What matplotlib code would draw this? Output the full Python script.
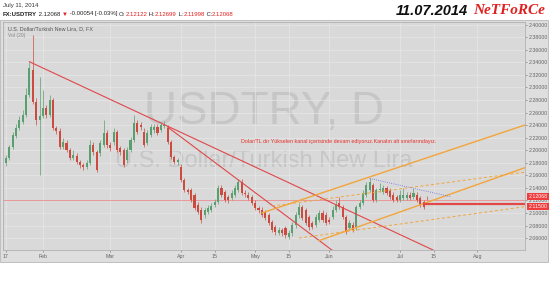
import numpy as np
import pandas as pd
import matplotlib
matplotlib.use('Agg')
import matplotlib.pyplot as plt
from matplotlib.patches import Rectangle

plt.rcParams['font.family'] = ['Liberation Sans', 'DejaVu Sans']

# USDTRY daily candles, Jan 17 - Jul 11 2014
dates = pd.bdate_range('2014-01-17', '2014-07-11')
opens = [2.180, 2.188, 2.205, 2.223, 2.235, 2.245, 2.256, 2.288, 2.328, 2.277,
         2.248, 2.255, 2.267, 2.256, 2.280, 2.235, 2.231, 2.205, 2.212, 2.200,
         2.188, 2.191, 2.181, 2.177, 2.173, 2.180, 2.208, 2.197, 2.196, 2.208,
         2.227, 2.208, 2.213, 2.229, 2.204, 2.200, 2.184, 2.200, 2.216, 2.243,
         2.240, 2.229, 2.212, 2.224, 2.232, 2.237, 2.232, 2.239, 2.235, 2.213,
         2.189, 2.181, 2.173, 2.153, 2.137, 2.137, 2.129, 2.113, 2.105, 2.097,
         2.102, 2.105, 2.113, 2.118, 2.140, 2.133, 2.126, 2.124, 2.129, 2.137,
         2.149, 2.132, 2.129, 2.126, 2.116, 2.108, 2.105, 2.102, 2.097, 2.086,
         2.078, 2.068, 2.073, 2.076, 2.062, 2.068, 2.081, 2.097, 2.110, 2.105,
         2.094, 2.084, 2.081, 2.089, 2.100, 2.097, 2.089, 2.094, 2.105, 2.116,
         2.110, 2.094, 2.076, 2.081, 2.076, 2.110, 2.116, 2.129, 2.137, 2.145,
         2.121, 2.137, 2.133, 2.140, 2.137, 2.129, 2.126, 2.121, 2.124, 2.124,
         2.129, 2.126, 2.129, 2.124, 2.118, 2.12122]
closes = [2.188, 2.205, 2.224, 2.235, 2.248, 2.256, 2.288, 2.331, 2.277, 2.248,
          2.255, 2.267, 2.256, 2.280, 2.235, 2.231, 2.205, 2.213, 2.200, 2.188,
          2.192, 2.181, 2.177, 2.173, 2.180, 2.208, 2.197, 2.169, 2.212, 2.227,
          2.208, 2.204, 2.229, 2.200, 2.197, 2.177, 2.200, 2.216, 2.243, 2.229,
          2.237, 2.208, 2.227, 2.237, 2.237, 2.227, 2.240, 2.240, 2.213, 2.189,
          2.181, 2.184, 2.153, 2.137, 2.133, 2.121, 2.108, 2.102, 2.089, 2.105,
          2.108, 2.111, 2.118, 2.140, 2.129, 2.121, 2.121, 2.132, 2.140, 2.149,
          2.132, 2.130, 2.124, 2.116, 2.108, 2.105, 2.097, 2.092, 2.084, 2.073,
          2.070, 2.073, 2.068, 2.065, 2.068, 2.081, 2.097, 2.110, 2.092, 2.084,
          2.078, 2.078, 2.094, 2.100, 2.089, 2.084, 2.086, 2.105, 2.113, 2.110,
          2.094, 2.070, 2.084, 2.073, 2.110, 2.116, 2.132, 2.145, 2.149, 2.121,
          2.137, 2.138, 2.140, 2.132, 2.126, 2.121, 2.121, 2.129, 2.129, 2.129,
          2.124, 2.132, 2.121, 2.113, 2.110, 2.12068]
highs = [2.192, 2.208, 2.229, 2.242, 2.255, 2.264, 2.299, 2.341, 2.384, 2.283,
         2.317, 2.296, 2.272, 2.288, 2.283, 2.239, 2.235, 2.220, 2.216, 2.204,
         2.200, 2.196, 2.184, 2.180, 2.184, 2.216, 2.213, 2.200, 2.216, 2.248,
         2.232, 2.213, 2.235, 2.232, 2.207, 2.204, 2.205, 2.221, 2.256, 2.248,
         2.245, 2.235, 2.232, 2.242, 2.242, 2.242, 2.245, 2.247, 2.240, 2.216,
         2.192, 2.188, 2.178, 2.156, 2.140, 2.140, 2.132, 2.118, 2.110, 2.108,
         2.113, 2.116, 2.122, 2.145, 2.145, 2.137, 2.129, 2.137, 2.145, 2.154,
         2.154, 2.137, 2.133, 2.129, 2.121, 2.111, 2.110, 2.105, 2.100, 2.089,
         2.081, 2.078, 2.076, 2.079, 2.073, 2.086, 2.102, 2.116, 2.113, 2.108,
         2.097, 2.087, 2.098, 2.105, 2.105, 2.102, 2.094, 2.111, 2.121, 2.126,
         2.113, 2.097, 2.089, 2.086, 2.113, 2.121, 2.137, 2.149, 2.156, 2.148,
         2.140, 2.148, 2.145, 2.143, 2.140, 2.133, 2.129, 2.137, 2.140, 2.133,
         2.133, 2.140, 2.133, 2.127, 2.121, 2.12699]
lows = [2.175, 2.184, 2.202, 2.220, 2.232, 2.242, 2.253, 2.285, 2.274, 2.240,
        2.161, 2.251, 2.251, 2.253, 2.232, 2.226, 2.202, 2.202, 2.197, 2.184,
        2.184, 2.178, 2.172, 2.169, 2.170, 2.177, 2.192, 2.165, 2.191, 2.205,
        2.204, 2.199, 2.208, 2.197, 2.192, 2.173, 2.180, 2.197, 2.213, 2.226,
        2.232, 2.205, 2.208, 2.221, 2.227, 2.224, 2.229, 2.235, 2.210, 2.186,
        2.178, 2.177, 2.149, 2.133, 2.130, 2.118, 2.105, 2.098, 2.084, 2.092,
        2.098, 2.102, 2.110, 2.114, 2.126, 2.118, 2.116, 2.121, 2.126, 2.133,
        2.129, 2.126, 2.121, 2.113, 2.105, 2.100, 2.094, 2.089, 2.081, 2.070,
        2.065, 2.065, 2.063, 2.060, 2.058, 2.063, 2.076, 2.092, 2.089, 2.081,
        2.073, 2.074, 2.078, 2.086, 2.086, 2.081, 2.082, 2.090, 2.102, 2.106,
        2.090, 2.066, 2.073, 2.070, 2.073, 2.106, 2.113, 2.126, 2.133, 2.118,
        2.118, 2.133, 2.130, 2.129, 2.122, 2.118, 2.118, 2.118, 2.121, 2.121,
        2.121, 2.122, 2.118, 2.110, 2.106, 2.11998]

# drawn trend lines: (start date, start price, end date, end price)
red_lines = [('2014-01-28', 2.341, '2014-07-16', 2.038),
             ('2014-03-26', 2.237, '2014-06-03', 2.040)]
orange_solid = [('2014-05-05', 2.100, '2014-08-21', 2.240),
                ('2014-05-28', 2.056, '2014-08-21', 2.172)]
orange_dashed = [('2014-05-08', 2.111, '2014-08-21', 2.165),
                 ('2014-05-20', 2.060, '2014-08-21', 2.110)]
blue_line = ('2014-06-18', 2.155, '2014-07-22', 2.126)
support_start = '2014-07-10'
support_level = 2.115
last_price = 2.12068

tick_dates = ['2014-01-17', '2014-02-03', '2014-03-03', '2014-04-01', '2014-04-15',
              '2014-05-01', '2014-05-15', '2014-06-02', '2014-07-01', '2014-07-15',
              '2014-08-01']
tick_labels = ['17', 'Feb', 'Mar', 'Apr', '15', 'May', '15', 'Jun', 'Jul', '15', 'Aug']
price_ticks = np.arange(2.06, 2.401, 0.02)

# business day axis
calendar = pd.bdate_range('2014-01-13', '2014-08-29')

def pos(d):
    return calendar.get_loc(pd.Timestamp(d))

xpos = calendar.get_indexer(dates)
o = np.array(opens)
c = np.array(closes)
up_col = '#5a9f70'
down_col = '#cc4b40'
cols = np.where(c >= o, up_col, down_col)

fig = plt.figure(figsize=(5.5, 2.85), dpi=100)
fig.patch.set_facecolor('white')
fig.patches.append(Rectangle((0, 1 - 262 / 285), 548 / 550, 242 / 285,
                             transform=fig.transFigure, facecolor='#dedede',
                             edgecolor='#b8b8b8', lw=0.6, zorder=-5))

ax = fig.add_axes([3 / 550, 1 - 250 / 285, 522 / 550, 228 / 285])
ax.set_facecolor('#d9d9d9')
ax.set_xlim(3.15, 158.1)
ax.set_ylim(2.041, 2.4043)

# watermark
ax.text(0.5, 0.605, 'USDTRY, D', transform=ax.transAxes, fontsize=33,
        color='#c6c6c6', ha='center', va='center', zorder=0)
ax.text(0.5, 0.39, 'U.S. Dollar/Turkish New Lira', transform=ax.transAxes,
        fontsize=17, color='#c6c6c6', ha='center', va='center', zorder=0)

# candles
ax.vlines(xpos, lows, highs, colors=cols, lw=0.5, zorder=3)
ax.bar(xpos, np.maximum(np.abs(c - o), 0.0006), bottom=np.minimum(o, c),
       width=0.62, color=cols, zorder=4)

# trend lines
for d0, p0, d1, p1 in red_lines:
    ax.plot([pos(d0), pos(d1)], [p0, p1], color='#e0474a', lw=0.8, zorder=5)
for d0, p0, d1, p1 in orange_solid:
    ax.plot([pos(d0), pos(d1)], [p0, p1], color='#f2a53a', lw=1.0, zorder=5)
for d0, p0, d1, p1 in orange_dashed:
    ax.plot([pos(d0), pos(d1)], [p0, p1], color='#f2a53a', lw=0.7,
            ls=(0, (3, 2.5)), zorder=5)
ax.plot([pos(blue_line[0]), pos(blue_line[2])], [blue_line[1], blue_line[3]],
        color='#6a6ae8', lw=0.6, ls=':', zorder=5)
ax.axhline(last_price, color='#ec7a7a', lw=0.5, zorder=2)
ax.plot([pos(support_start), 158.1], [support_level, support_level],
        color='#e24848', lw=1.6, zorder=5)

# annotation
ax.text(0.456, 0.478, 'Dolar/TL dır Yükselen kanal içerisinde devam ediyoruz.'
        'Kanalın alt sınırlarındayız.', transform=ax.transAxes, fontsize=3.9,
        color='#e8302a', ha='left', va='center', zorder=6)
ax.text(0.01, 0.972, 'U.S. Dollar/Turkish New Lira, D, FX', transform=ax.transAxes,
        fontsize=3.9, color='#555555', ha='left', va='center')
ax.text(0.01, 0.94, 'Vol (20)', transform=ax.transAxes, fontsize=3.6,
        color='#8a8a8a', ha='left', va='center')

# axes styling
ax.set_xticks([pos(d) for d in tick_dates])
ax.set_xticklabels(tick_labels)
ax.set_yticks(price_ticks)
ax.set_yticklabels([f'{v:.5f}' for v in price_ticks])
ax.yaxis.tick_right()
ax.tick_params(axis='both', labelsize=3.8, colors='#666666', length=1.5,
               width=0.4, pad=1.5)
ax.grid(True, color='#e6e6e6', lw=0.5, zorder=0)
ax.set_axisbelow(True)
for s in ax.spines.values():
    s.set_color('#a8a8a8')
    s.set_linewidth(0.5)

# price labels on the scale (stacked so they do not cover each other)
ytr = ax.get_yaxis_transform()
for val, txt, dy, va in [(last_price, '2.12068', 0.6, 'bottom'),
                         (support_level, '2.11500', -0.6, 'top')]:
    ax.annotate(txt, xy=(1.0, val), xycoords=ytr, xytext=(2.5, dy),
                textcoords='offset points', fontsize=3.8, color='white',
                ha='left', va=va, zorder=10, annotation_clip=False,
                bbox=dict(boxstyle='square,pad=0.2', fc='#f03c3c', ec='none'))

# header
fig.text(3 / 550, 1 - 5 / 285, 'July 11, 2014', fontsize=4.3, color='#333333',
         ha='left', va='center')
pieces = [('FX:USDTRY', '#222222', 'bold'), (' 2.12068 ', '#222222', 'normal'),
          ('▼', '#e02020', 'normal'), (' -0.00054 [-0.03%] ', '#222222', 'normal'),
          ('O:', '#222222', 'normal'), ('2.12122', '#e02020', 'normal'),
          (' H:', '#222222', 'normal'), ('2.12699', '#e02020', 'normal'),
          (' L:', '#222222', 'normal'), ('2.11998', '#e02020', 'normal'),
          (' C:', '#222222', 'normal'), ('2.12068', '#e02020', 'normal')]
fig.canvas.draw()
renderer = fig.canvas.get_renderer()
xcur = 3
for txt, col, wt in pieces:
    t = fig.text(xcur / 550, 1 - 14 / 285, txt, fontsize=4.3, color=col,
                 fontweight=wt, ha='left', va='center')
    xcur = t.get_window_extent(renderer).x1

fig.text(468 / 550, 1 - 11 / 285, '11.07.2014', fontsize=10.5, fontweight='bold',
         fontstyle='italic', color='#111111', ha='right', va='center')
fig.text(545 / 550, 1 - 11 / 285, 'NeTFoRCe', fontsize=11, fontweight='bold',
         fontstyle='italic', color='#e02020', ha='right', va='center',
         family=['Liberation Serif', 'DejaVu Serif'])

fig.savefig('out.png', dpi=100)
